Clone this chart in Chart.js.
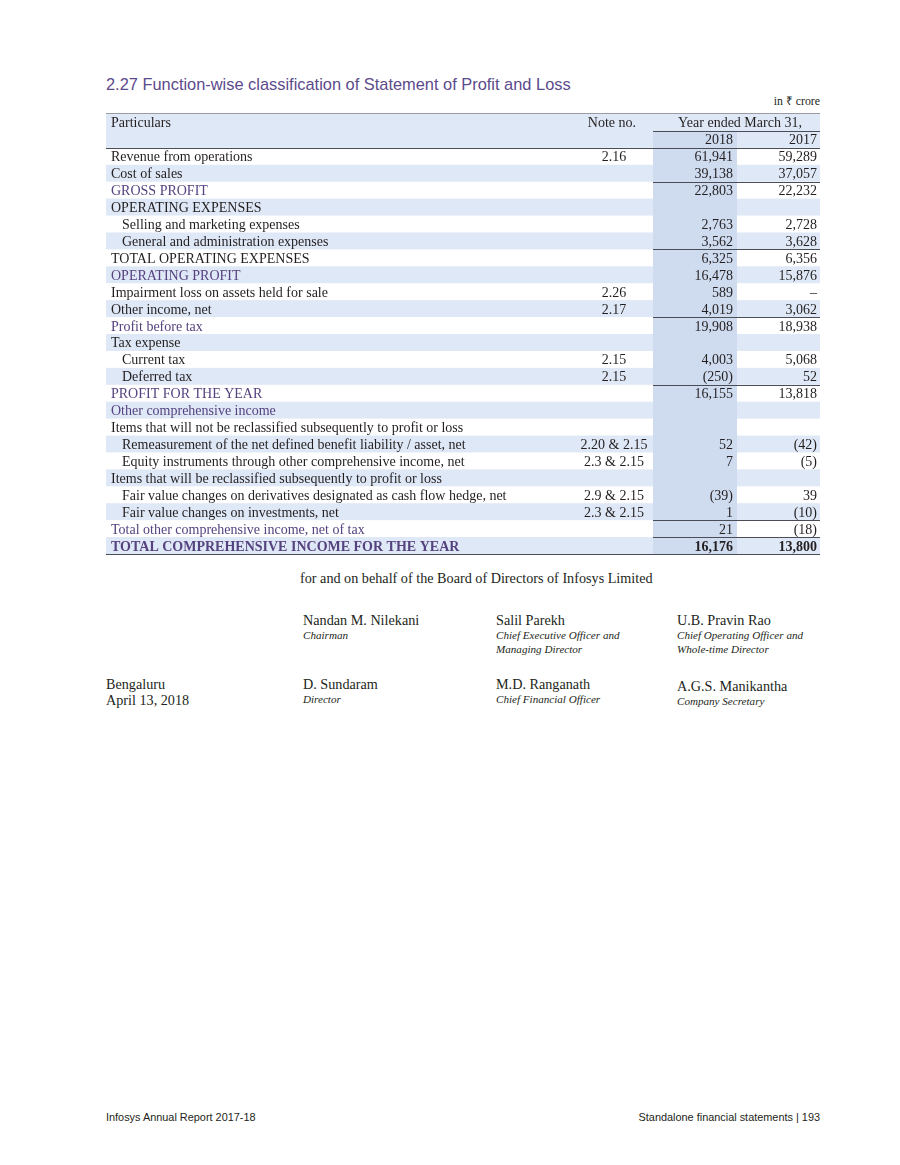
<!DOCTYPE html>
<html>
<head>
<meta charset="utf-8">
<script src="https://cdn.jsdelivr.net/npm/chart.js@4"></script>
<style>
    body { margin: 0; background: #fff; }
    #page { position: relative; width: 900px; height: 1165px; font-family: "Liberation Serif", serif; color: #231f20; }
    .abs { position: absolute; white-space: nowrap; }
    #title { left: 106px; top: 75px; font-family: "Liberation Sans", Arial, sans-serif; font-size: 16.4px; color: #5b4a8c; }
    #unit { right: 80px; top: 92px; font-size: 11.8px; }
    #table-box { position: absolute; left: 106px; top: 110px; width: 714px; height: 448px; }
    .name { font-size: 14.2px; line-height: 16px; }
    .role { font-size: 11.1px; font-style: italic; line-height: 14px; }
    .foot { font-family: "Liberation Sans", Arial, sans-serif; font-size: 10.9px; top: 1111px; }
</style>
</head>
<body>
<div id="page">
    <div id="title" class="abs">2.27 Function-wise classification of Statement of Profit and Loss</div>
    <div id="unit" class="abs">in ₹ crore</div>
    <div id="table-box"><canvas id="pl-table"></canvas></div>

    <div class="abs name" style="left:300px; top:570px;">for and on behalf of the Board of Directors of Infosys Limited</div>

    <div class="abs" style="left:303px; top:612px;"><div class="name">Nandan M. Nilekani</div><div class="role">Chairman</div></div>
    <div class="abs" style="left:496px; top:612px;"><div class="name">Salil Parekh</div><div class="role">Chief Executive Officer and<br>Managing Director</div></div>
    <div class="abs" style="left:677px; top:612px;"><div class="name">U.B. Pravin Rao</div><div class="role">Chief Operating Officer and<br>Whole-time Director</div></div>

    <div class="abs name" style="left:106px; top:676px;">Bengaluru<br>April 13, 2018</div>
    <div class="abs" style="left:303px; top:676px;"><div class="name">D. Sundaram</div><div class="role">Director</div></div>
    <div class="abs" style="left:496px; top:676px;"><div class="name">M.D. Ranganath</div><div class="role">Chief Financial Officer</div></div>
    <div class="abs" style="left:677px; top:678px;"><div class="name">A.G.S. Manikantha</div><div class="role">Company Secretary</div></div>

    <div class="abs foot" style="left:106px;">Infosys Annual Report 2017-18</div>
    <div class="abs foot" style="right:80px;">Standalone financial statements | 193</div>
</div>
<script>
// 表データ
const particulars = [
    'Revenue from operations',
    'Cost of sales',
    'GROSS PROFIT',
    'OPERATING EXPENSES',
    'Selling and marketing expenses',
    'General and administration expenses',
    'TOTAL OPERATING EXPENSES',
    'OPERATING PROFIT',
    'Impairment loss on assets held for sale',
    'Other income, net',
    'Profit before tax',
    'Tax expense',
    'Current tax',
    'Deferred tax',
    'PROFIT FOR THE YEAR',
    'Other comprehensive income',
    'Items that will not be reclassified subsequently to profit or loss',
    'Remeasurement of the net defined benefit liability / asset, net',
    'Equity instruments through other comprehensive income, net',
    'Items that will be reclassified subsequently to profit or loss',
    'Fair value changes on derivatives designated as cash flow hedge, net',
    'Fair value changes on investments, net',
    'Total other comprehensive income, net of tax',
    'TOTAL COMPREHENSIVE INCOME FOR THE YEAR'
];
const noteNos = ['2.16', '', '', '', '', '', '', '', '2.26', '2.17', '', '', '2.15', '2.15', '', '', '', '2.20 & 2.15', '2.3 & 2.15', '', '2.9 & 2.15', '2.3 & 2.15', '', ''];
const years = ['2018', '2017'];
const fy2018 = [61941, 39138, 22803, null, 2763, 3562, 6325, 16478, 589, 4019, 19908, null, 4003, -250, 16155, null, null, 52, 7, null, -39, 1, 21, 16176];
const fy2017 = [59289, 37057, 22232, null, 2728, 3628, 6356, 15876, 0, 3062, 18938, null, 5068, 52, 13818, null, null, -42, -5, null, 39, -10, -18, 13800];

// 行スタイル
const indentRows = [4, 5, 12, 13, 17, 18, 20, 21];
const purpleRows = [2, 7, 10, 14, 15, 22, 23];
const boldRows = [23];
const ruleAboveRows = [2, 6, 10, 14, 22, 23];

const headerLabels = ['Particulars', ''];
const rowLabels = headerLabels.concat(particulars);

const INK = '#231f20';
const PURPLE = '#55427f';
const STRIPE = '#dfe8f6';
const COL2018 = '#cfdbef';
const RULE = '#4a4d55';
const FONT = '14px "Liberation Serif", serif';

function formatValue(v) {
    if (v === null) return '';
    if (v === 0) return '–';
    const s = Math.abs(v).toLocaleString('en-US');
    return v < 0 ? '(' + s + ')' : s;
}

// テーブル描画プラグイン
const tablePlugin = {
    id: 'tablePlugin',
    afterDraw(chart) {
        const ctx = chart.ctx;
        const xs = chart.scales.x;
        const ys = chart.scales.y;
        const X = v => xs.getPixelForValue(v);
        const rowH = ys.getPixelForValue(1) - ys.getPixelForValue(0);
        const top = i => ys.getPixelForValue(i) - rowH / 2;
        const textY = i => Math.round(ys.getPixelForValue(i)) + 1;
        const left = X(106), right = X(820);
        const col2018L = X(653), col2018R = X(737);

        ctx.save();
        // 縞模様の背景
        ctx.fillStyle = STRIPE;
        ctx.fillRect(left, top(0), right - left, rowH * 2);
        rowLabels.forEach((_, i) => {
            if (i > 1 && i % 2 === 1) ctx.fillRect(left, top(i), right - left, rowH);
        });
        // 2018列
        ctx.fillStyle = COL2018;
        ctx.fillRect(col2018L, top(1), col2018R - col2018L, top(rowLabels.length) - top(1));

        // 罫線
        function hline(y, x0, x1, color) {
            ctx.strokeStyle = color;
            ctx.lineWidth = 1;
            ctx.beginPath();
            ctx.moveTo(x0, Math.round(y) + 0.5);
            ctx.lineTo(x1, Math.round(y) + 0.5);
            ctx.stroke();
        }
        hline(top(0) - 1, left, right, '#9a9ca3');
        hline(top(1), col2018L, right, RULE);
        hline(top(2), left, right, RULE);
        ruleAboveRows.forEach(r => hline(top(r + 2), col2018L, right, RULE));
        hline(top(rowLabels.length), left, right, RULE);

        ctx.textBaseline = 'middle';
        // ヘッダー
        ctx.font = FONT;
        ctx.fillStyle = INK;
        ctx.textAlign = 'left';
        ctx.fillText(headerLabels[0], X(111), textY(0));
        ctx.textAlign = 'right';
        ctx.fillText('Note no.', X(636), textY(0));
        ctx.textAlign = 'center';
        ctx.fillText('Year ended March 31,', X(740), textY(0));
        ctx.textAlign = 'right';
        ctx.fillText(years[0], X(733), textY(1));
        ctx.fillText(years[1], X(817), textY(1));

        // 各行
        particulars.forEach((label, r) => {
            const y = textY(r + 2);
            ctx.font = (boldRows.includes(r) ? 'bold ' : '') + FONT;
            ctx.fillStyle = purpleRows.includes(r) ? PURPLE : INK;
            ctx.textAlign = 'left';
            ctx.fillText(label, X(indentRows.includes(r) ? 122 : 111), y);

            ctx.fillStyle = INK;
            ctx.textAlign = 'center';
            ctx.fillText(noteNos[r], X(614), y);
            ctx.textAlign = 'right';
            ctx.fillText(formatValue(fy2018[r]), X(733), y);
            ctx.fillText(formatValue(fy2017[r]), X(817), y);
        });
        ctx.restore();
    }
};

document.addEventListener('DOMContentLoaded', () => {
    const ctx = document.getElementById('pl-table').getContext('2d');
    new Chart(ctx, {
        type: 'bar',
        data: {
            labels: rowLabels,
            datasets: []
        },
        options: {
            indexAxis: 'y',
            responsive: true,
            maintainAspectRatio: false,
            animation: false,
            layout: { padding: { top: 4, bottom: 4, left: 0, right: 0 } },
            plugins: { legend: { display: false }, tooltip: { enabled: false } },
            scales: {
                x: { type: 'linear', min: 106, max: 820, display: false },
                y: { type: 'category', display: false, offset: true }
            }
        },
        plugins: [tablePlugin]
    });
});
</script>
</body>
</html>
